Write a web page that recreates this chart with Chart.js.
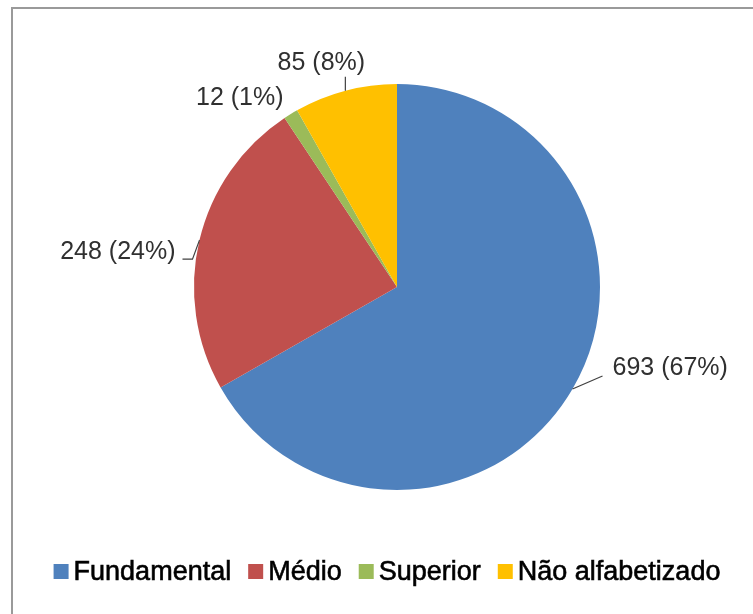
<!DOCTYPE html>
<html lang="pt">
<head>
<meta charset="UTF-8" />
<title>Escolaridade</title>
<script src="https://cdn.jsdelivr.net/npm/chart.js"></script>
<style>
  html, body { margin: 0; padding: 0; background: #fff; }
  #wrap { width: 753px; height: 614px; position: relative; }
</style>
</head>
<body>
<div id="wrap"><canvas id="pieChart" width="753" height="614"></canvas></div>
<script>
  // data
  const categories = ['Fundamental', 'Médio', 'Superior', 'Não alfabetizado'];
  const counts = [693, 248, 12, 85];
  const sliceColors = ['#4F81BD', '#C0504D', '#9BBB59', '#FFC000'];

  const total = counts.reduce((a, b) => a + b, 0);
  const valueLabels = counts.map(v => `${v} (${Math.round(v / total * 100)}%)`);

  // where each data label sits relative to the outer edge of its slice
  const labelOffsets = [
    { text: [40, -21], align: 'left', line: [[30, -13]] },
    { text: [-24, 12], align: 'right', line: [[-7, 19], [-17, 19]] },
    { text: [-51, -16], align: 'center', line: [] },
    { text: [-24, -28], align: 'center', line: [[0, -14]] }
  ];

  const fontFamily = '"Liberation Sans", Arial, sans-serif';

  const framePlugin = {
    id: 'frame',
    beforeDraw(chart) {
      const ctx = chart.ctx;
      ctx.save();
      ctx.fillStyle = '#fff';
      ctx.fillRect(0, 0, chart.width, chart.height);
      ctx.strokeStyle = '#9a9a9a';
      ctx.lineWidth = 2;
      ctx.beginPath();
      ctx.moveTo(12, chart.height);
      ctx.lineTo(12, 8);
      ctx.lineTo(chart.width, 8);
      ctx.stroke();
      ctx.restore();
    }
  };

  const labelPlugin = {
    id: 'sliceLabels',
    afterDatasetsDraw(chart) {
      const ctx = chart.ctx;
      const meta = chart.getDatasetMeta(0);
      ctx.save();
      ctx.font = '25px ' + fontFamily;
      ctx.textBaseline = 'middle';
      meta.data.forEach((arc, i) => {
        const p = arc.getProps(['x', 'y', 'startAngle', 'endAngle', 'outerRadius'], true);
        const mid = (p.startAngle + p.endAngle) / 2;
        const ex = p.x + Math.cos(mid) * p.outerRadius;
        const ey = p.y + Math.sin(mid) * p.outerRadius;
        const lay = labelOffsets[i];
        if (lay.line.length) {
          ctx.strokeStyle = '#404040';
          ctx.lineWidth = 1.2;
          ctx.beginPath();
          ctx.moveTo(ex, ey);
          lay.line.forEach(pt => ctx.lineTo(ex + pt[0], ey + pt[1]));
          ctx.stroke();
        }
        ctx.fillStyle = '#303030';
        ctx.textAlign = lay.align;
        ctx.fillText(valueLabels[i], ex + lay.text[0], ey + lay.text[1]);
      });
      ctx.restore();
    }
  };

  const legendPlugin = {
    id: 'bottomLegend',
    afterDraw(chart) {
      const ctx = chart.ctx;
      const box = 15, gapText = 5, gapItem = 17;
      const centerX = 387, centerY = 571.5;
      ctx.save();
      ctx.font = '27px ' + fontFamily;
      ctx.textBaseline = 'middle';
      ctx.textAlign = 'left';
      const widths = categories.map(c => ctx.measureText(c).width);
      let totalW = widths.reduce((a, w) => a + box + gapText + w, 0) + gapItem * (categories.length - 1);
      let x = centerX - totalW / 2;
      categories.forEach((c, i) => {
        ctx.fillStyle = sliceColors[i];
        ctx.fillRect(x, centerY - box / 2, box, box);
        ctx.fillStyle = '#000';
        ctx.strokeStyle = '#000';
        ctx.lineWidth = 0.6;
        ctx.fillText(c, x + box + gapText, centerY + 1);
        ctx.strokeText(c, x + box + gapText, centerY + 1);
        x += box + gapText + widths[i] + gapItem;
      });
      ctx.restore();
    }
  };

  new Chart(document.getElementById('pieChart'), {
    type: 'pie',
    data: {
      labels: categories,
      datasets: [{
        data: counts,
        backgroundColor: sliceColors,
        borderWidth: 0,
        hoverOffset: 0
      }]
    },
    options: {
      responsive: false,
      animation: false,
      events: [],
      layout: { padding: { left: 194, right: 153, top: 84, bottom: 124 } },
      plugins: {
        legend: { display: false },
        tooltip: { enabled: false },
        title: { display: false }
      }
    },
    plugins: [framePlugin, labelPlugin, legendPlugin]
  });
</script>
</body>
</html>
